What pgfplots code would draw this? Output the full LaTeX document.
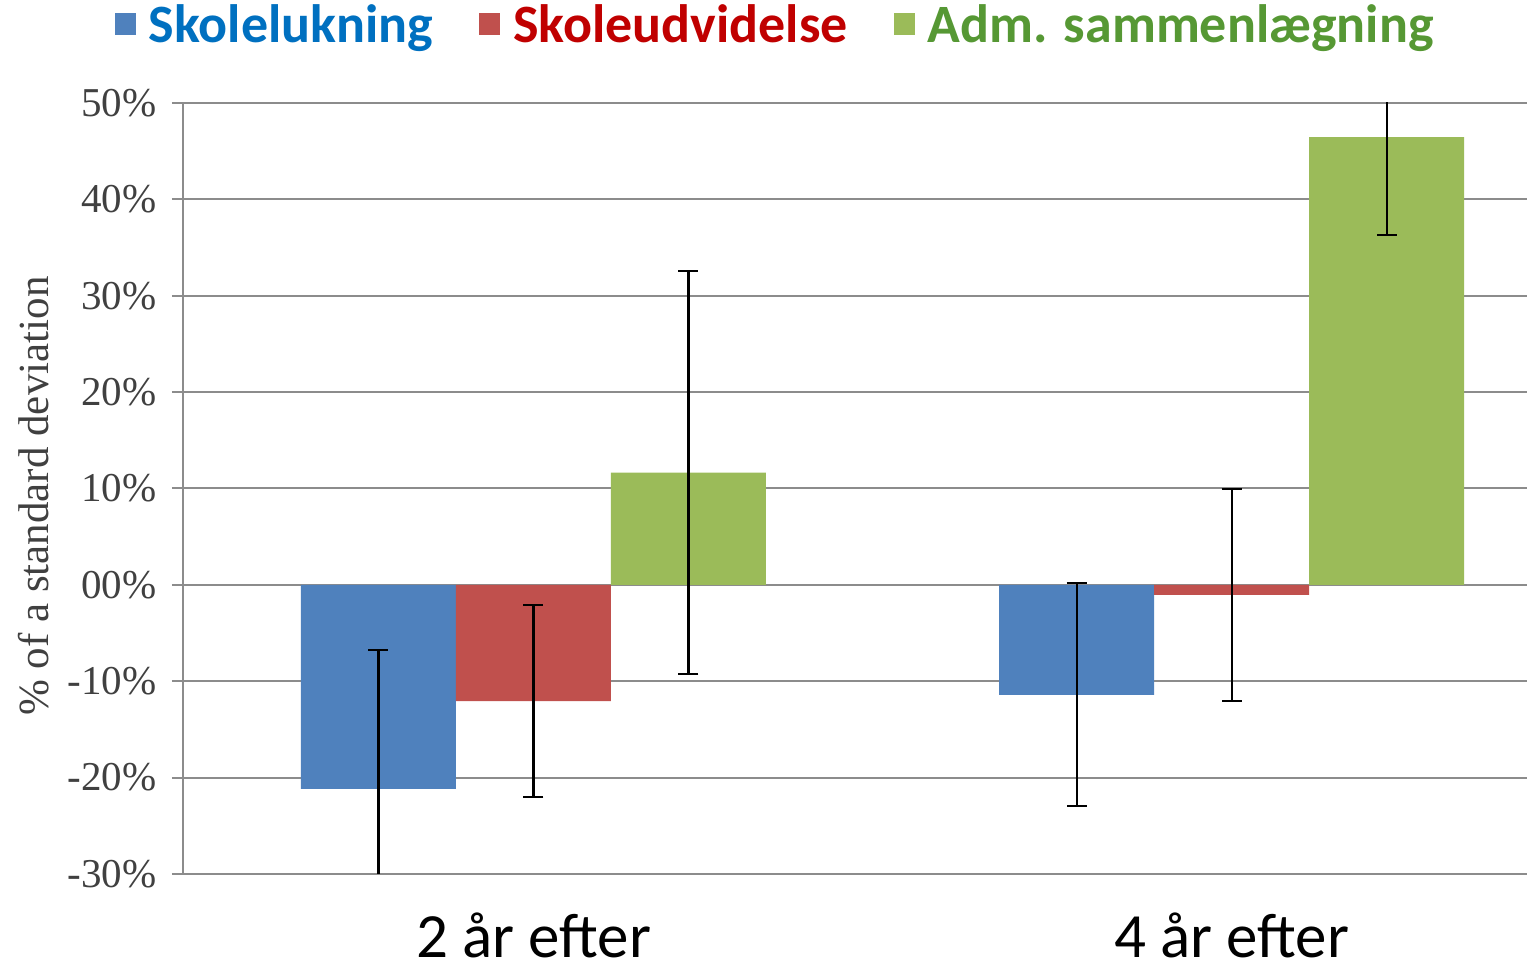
\documentclass[border=0pt]{standalone}
\usepackage{pgfplots}
\pgfplotsset{compat=1.18}
\usepackage{fontspec}
\setmainfont{Carlito}
\newfontfamily\timesf{Liberation Serif}
\definecolor{cBlue}{HTML}{4F81BD}
\definecolor{cRed}{HTML}{C0504D}
\definecolor{cGreen}{HTML}{9BBB59}
\definecolor{tBlue}{HTML}{0070C0}
\definecolor{tRed}{HTML}{C00000}
\definecolor{tGreen}{HTML}{569834}
\definecolor{gridc}{RGB}{140,140,140}
\definecolor{labc}{RGB}{64,64,64}
\pgfplotsset{myerr/.style={error bars/.cd, y dir=both, y explicit,
  error mark=|,
  error bar style={line width=2.2pt, black},
  error mark options={mark size=10pt, line width=2.2pt, black}}}
\begin{document}
\begin{tikzpicture}
\useasboundingbox (0,0) rectangle (1527pt,964pt);
\begin{axis}[
  at={(183pt,90pt)}, anchor=south west,
  scale only axis,
  width=1344pt, height=771pt,
  ybar=0pt, bar width=155pt,
  legend image code/.code={\fill[#1,draw=none] (0pt,-11pt) rectangle (21pt,11pt);},
  xmin=-0.502, xmax=1.423,
  ymin=-30, ymax=50,
  xtick={0,1}, xticklabels={2 år efter,4 år efter},
  xtick style={draw=none},
  xticklabel style={font=\fontsize{63}{66}\selectfont, anchor=base, yshift=-73pt, text=black},
  ytick={-30,-20,-10,0,10,20,30,40,50},
  yticklabels={-30\%,-20\%,-10\%,00\%,10\%,20\%,30\%,40\%,50\%},
  yticklabel style={font=\timesf\fontsize{41}{43}\selectfont, text=labc, xshift=-12pt},
  ylabel={\% of a standard deviation},
  ylabel style={font=\timesf\fontsize{43}{45}\selectfont, text=labc, at={(axis description cs:-0.1,0.49)}, anchor=base},
  tick align=outside, major tick length=11pt,
  ytick style={draw=gridc, line width=2pt},
  ymajorgrids, major grid style={draw=gridc, line width=2pt},
  axis x line*=bottom, axis y line*=left,
  x axis line style={draw=none},
  y axis line style={draw=gridc, line width=2pt, -},
  legend columns=3,
  legend style={at={(axis description cs:-0.0506,1.1018)}, anchor=west, draw=none, fill=none, inner sep=0pt, outer sep=0pt,
    font=\bfseries\fontsize{54}{56}\selectfont,
    nodes={inner sep=0pt},
    /tikz/every odd column/.append style={column sep=13pt},
    /tikz/every even column/.append style={column sep=46pt}},
]
\addplot[fill=cBlue, draw=none, myerr] coordinates {(0,-21.16) +- (0,14.42) (1,-11.41) +- (0,11.57)};
\addlegendentry{\textcolor{tBlue}{Skolelukning}}
\addplot[fill=cRed, draw=none, myerr] coordinates {(0,-12.06) +- (0,9.93) (1,-1.04) +- (0,11.0)};
\addlegendentry{\textcolor{tRed}{Skoleudvidelse}}
\addplot[fill=cGreen, draw=none, myerr] coordinates {(0,11.65) +- (0,20.9) (1,46.47) +- (0,10.13)};
\addlegendentry{\textcolor{tGreen}{Adm. sammenlægning}}
\end{axis}
\end{tikzpicture}
\end{document}
